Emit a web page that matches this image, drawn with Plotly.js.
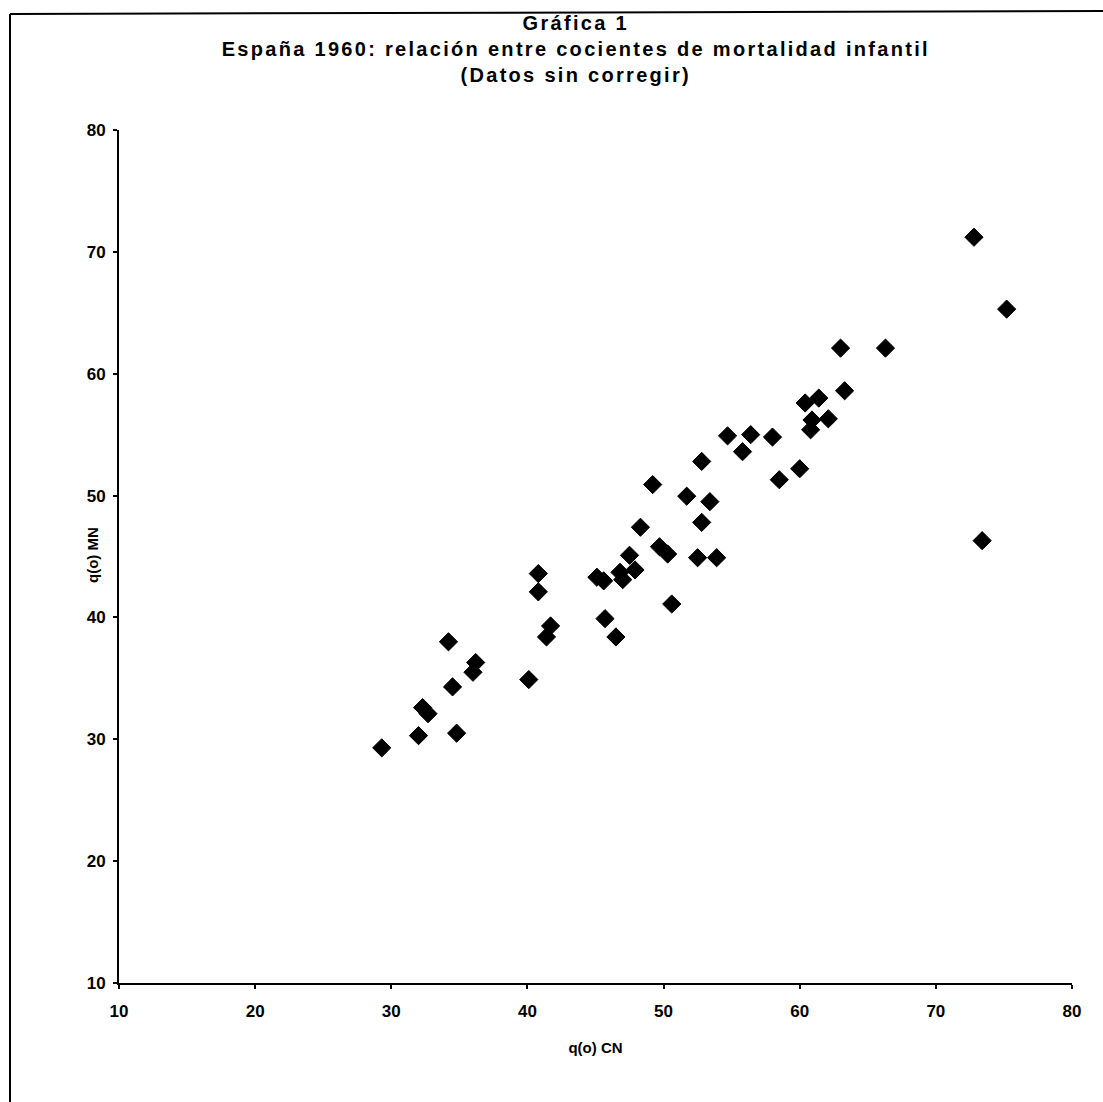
<!DOCTYPE html>
<html>
<head>
<meta charset="utf-8">
<script src="https://cdn.plot.ly/plotly-3.0.1.min.js"></script>
<style>
  html, body { margin: 0; padding: 0; background: #fff; }
  #chart { width: 1103px; height: 1102px; }
  #chart .gtitle { letter-spacing: 2.3px; }
</style>
</head>
<body>
<div id="chart"></div>
<script>
// q(o) CN (x) and q(o) MN (y)
const qCN = [29.3, 32.0, 34.8, 32.3, 32.7, 34.5, 34.2, 36.2, 36.0, 40.1,
             40.8, 40.8, 41.7, 41.4, 45.1, 45.6, 45.7, 46.5, 47.0, 46.8,
             47.5, 47.9, 48.3, 49.7, 50.3, 50.6, 49.2, 51.7, 53.4, 52.8,
             52.5, 53.9, 52.8, 54.7, 56.4, 55.8, 58.0, 58.5, 60.0, 60.9,
             60.8, 62.1, 60.4, 61.4, 63.3, 63.0, 66.3, 72.8, 75.2, 73.4];
const qMN = [29.3, 30.3, 30.5, 32.6, 32.1, 34.3, 38.0, 36.3, 35.5, 34.9,
             43.6, 42.1, 39.3, 38.4, 43.3, 43.0, 39.9, 38.4, 43.1, 43.7,
             45.1, 43.9, 47.4, 45.8, 45.2, 41.1, 50.9, 49.95, 49.5, 47.8,
             44.9, 44.9, 52.8, 54.9, 55.0, 53.6, 54.8, 51.3, 52.2, 56.2,
             55.4, 56.3, 57.6, 58.0, 58.6, 62.1, 62.1, 71.2, 65.3, 46.3];

const xTicks = [10, 20, 30, 40, 50, 60, 70, 80];
const yTicks = [10, 20, 30, 40, 50, 60, 70, 80];

const titleLines = ['Gráfica 1',
  'España 1960: relación entre cocientes de mortalidad infantil',
  '(Datos sin corregir)'];
const xTitle = 'q(o) CN';
const yTitle = 'q(o) MN';

const FONT = 'Liberation Sans, Arial, sans-serif';

const trace = {
  type: 'scatter', mode: 'markers',
  x: qCN, y: qMN,
  marker: { symbol: 'diamond', size: 14, color: '#000', line: { color: '#000', width: 1 } },
  hoverinfo: 'x+y'
};

// page frame (scanned border) in paper coordinates
const L = 119, R = 31, T = 130, B = 119, W = 1103, H = 1102;
const pw = W - L - R, ph = H - T - B;
const px = p => (p - L) / pw;
const py = p => (H - B - p) / ph;

const layout = {
  width: W, height: H,
  margin: { l: L, r: R, t: T, b: B },
  paper_bgcolor: '#fff', plot_bgcolor: '#fff',
  showlegend: false,
  font: { family: FONT, color: '#000', weight: 'bold' },
  title: {
    text: titleLines.join('<br>'),
    font: { family: FONT, size: 20, color: '#000', weight: 'bold' },
    x: 0.522, xanchor: 'center', xref: 'container',
    y: 0.973, yanchor: 'top', yref: 'container'
  },
  xaxis: {
    range: [10, 80], tickvals: xTicks, ticktext: xTicks.map(String),
    showgrid: false, zeroline: false, showline: true, linecolor: '#000', linewidth: 2,
    ticks: 'outside', ticklen: 4, tickwidth: 2, tickcolor: '#000',
    tickfont: { family: FONT, size: 17, color: '#000', weight: 'bold' },
    ticklabelstandoff: 8,
    title: { text: xTitle, font: { family: FONT, size: 15, color: '#000', weight: 'bold' }, standoff: 22 }
  },
  yaxis: {
    range: [10, 80], tickvals: yTicks, ticktext: yTicks.map(String),
    showgrid: false, zeroline: false, showline: true, linecolor: '#000', linewidth: 2,
    ticks: 'outside', ticklen: 4, tickwidth: 2, tickcolor: '#000',
    tickfont: { family: FONT, size: 17, color: '#000', weight: 'bold' },
    ticklabelstandoff: 4
  },
  annotations: [
    { text: yTitle, xref: 'paper', yref: 'paper', x: px(92), y: py(555),
      xanchor: 'center', yanchor: 'middle', textangle: -90, showarrow: false,
      font: { family: FONT, size: 15, color: '#000', weight: 'bold' } }
  ],
  shapes: [
    { type: 'line', xref: 'paper', yref: 'paper', x0: px(10), x1: px(10), y0: py(14), y1: py(1102),
      line: { color: '#000', width: 2 } },
    { type: 'line', xref: 'paper', yref: 'paper', x0: px(10), x1: px(1103), y0: py(14), y1: py(11),
      line: { color: '#000', width: 2 } }
  ]
};

Plotly.newPlot('chart', [trace], layout, { displayModeBar: false, staticPlot: true });
</script>
</body>
</html>
